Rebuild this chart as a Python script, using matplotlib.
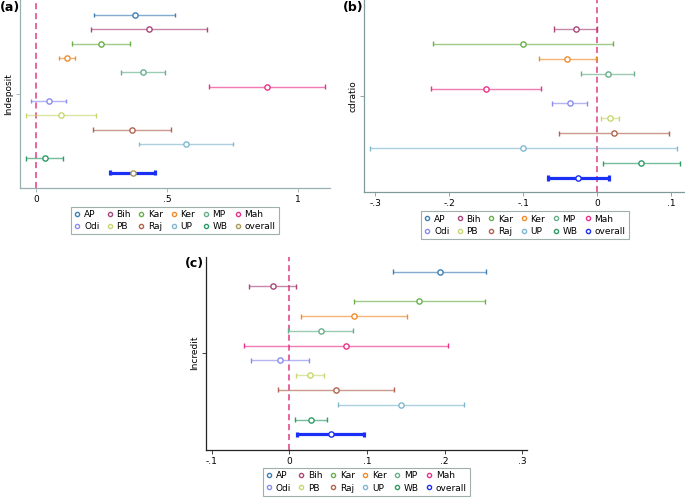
import numpy as np
import matplotlib
matplotlib.use('Agg')
import matplotlib.pyplot as plt
from matplotlib.lines import Line2D

states = ['AP', 'Bih', 'Kar', 'Ker', 'MP', 'Mah', 'Odi', 'PB', 'Raj', 'UP', 'WB', 'overall']
colors = ['#3f7fb5', '#a8477a', '#6ab04c', '#f08c2c', '#66b08a', '#e8338a',
          '#8c8cf0', '#c8d870', '#b06450', '#80b8d0', '#2e9a68', '#1a30f5']

# (a) lndeposit: estimate, lower, upper
dep_est = [0.376, 0.431, 0.247, 0.118, 0.408, 0.882, 0.047, 0.094, 0.367, 0.572, 0.032, 0.368]
dep_lo = [0.219, 0.210, 0.135, 0.088, 0.325, 0.661, -0.020, -0.040, 0.218, 0.391, -0.041, 0.283]
dep_hi = [0.532, 0.654, 0.359, 0.149, 0.492, 1.104, 0.115, 0.227, 0.515, 0.753, 0.103, 0.454]

# (b) cdratio (no AP estimate)
cdr_est = [np.nan, -0.029, -0.1005, -0.041, 0.0144, -0.150, -0.037, 0.018, 0.0225, -0.0995, 0.060, -0.026]
cdr_lo = [np.nan, -0.058, -0.2225, -0.079, -0.021, -0.224, -0.061, 0.0054, -0.052, -0.307, 0.0086, -0.066]
cdr_hi = [np.nan, -0.0005, 0.022, -0.002, 0.050, -0.076, -0.014, 0.030, 0.098, 0.1086, 0.112, 0.016]

# (c) lncredit
cre_est = [0.1936, -0.0215, 0.1674, 0.0837, 0.0408, 0.0725, -0.0116, 0.027, 0.0605, 0.1438, 0.0275, 0.0536]
cre_lo = [0.133, -0.0524, 0.0837, 0.0146, -0.0013, -0.0584, -0.0494, 0.009, -0.0146, 0.0631, 0.0069, 0.0103]
cre_hi = [0.2536, 0.009, 0.2515, 0.152, 0.0824, 0.2039, 0.0258, 0.0446, 0.1343, 0.2245, 0.048, 0.0966]

W, H = 685, 498
fig = plt.figure(figsize=(6.85, 4.98), dpi=100)


def px_axes(l, t, r, b):
    return fig.add_axes([l / W, 1 - b / H, (r - l) / W, (b - t) / H])


def panel(ax, est, lo, hi, xlim, ylim, ticks, ticklabels, ylab, spine_col, overall_mk):
    rows = np.arange(1, len(states) + 1)
    for i, s in enumerate(states):
        if np.isnan(est[i]):
            continue
        c = colors[i]
        lw = 2.3 if s == 'overall' else 1.0
        ax.plot([lo[i], hi[i]], [rows[i], rows[i]], color=c, lw=lw,
                alpha=1.0 if s == 'overall' else 0.65, solid_capstyle='butt', zorder=2)
        for xv in (lo[i], hi[i]):
            ax.plot([xv, xv], [rows[i] - 0.17, rows[i] + 0.17], color=c,
                    lw=lw, solid_capstyle='butt', zorder=3)
        mc = overall_mk if s == 'overall' else c
        ax.plot(est[i], rows[i], 'o', ms=3.8, mfc='white', mec=mc, mew=1.0, zorder=4)
    ax.axvline(0, color='#e23c82', lw=1.1, ls=(0, (4, 2.5)), zorder=1)
    ax.set_xlim(*xlim)
    ax.set_ylim(*ylim)
    ax.set_xticks(ticks)
    ax.set_xticklabels(ticklabels, fontsize=6.5)
    ax.set_yticks([6.5])
    ax.set_yticklabels([ylab], fontsize=6.5, rotation=90, va='center')
    ax.tick_params(length=3, width=0.6, color=spine_col, pad=2)
    for sp in ('top', 'right'):
        ax.spines[sp].set_visible(False)
    for sp in ('left', 'bottom'):
        ax.spines[sp].set_color(spine_col)
        ax.spines[sp].set_linewidth(0.9)


def legend(cx, top, overall_mk):
    handles = []
    for i, s in enumerate(states):
        mc = overall_mk if s == 'overall' else colors[i]
        handles.append(Line2D([], [], ls='none', marker='o', ms=3, mfc='white', mec=mc, mew=1.0))
    order = [0, 6, 1, 7, 2, 8, 3, 9, 4, 10, 5, 11]
    lg = fig.legend([handles[k] for k in order], [states[k] for k in order],
                    loc='upper center', bbox_to_anchor=(cx / W, 1 - top / H),
                    ncol=6, fontsize=6.5, frameon=True, fancybox=False,
                    handlelength=0.6, handletextpad=0.45, columnspacing=0.85,
                    borderpad=0.35, labelspacing=0.35, borderaxespad=0)
    lg.get_frame().set_edgecolor('#8a9a9a')
    lg.get_frame().set_linewidth(0.8)


ax_a = px_axes(20, 0, 330, 188)
panel(ax_a, dep_est, dep_lo, dep_hi, (-0.0624, 1.1235), (13.07, -0.047),
      [0, 0.5, 1], ['0', '.5', '1'], 'lndeposit', '#9ab0b0', '#a89c58')
legend(175, 207, '#a89c58')

ax_b = px_axes(364.3, 0, 685, 192.3)
panel(ax_b, cdr_est, cdr_lo, cdr_hi, (-0.3149, 0.1191), (12.96, 0.054),
      [-0.3, -0.2, -0.1, 0, 0.1], ['-.3', '-.2', '-.1', '0', '.1'], 'cdratio', '#7f9a9a', colors[-1])
legend(525, 211.5, colors[-1])

ax_c = px_axes(206, 256.7, 526.7, 450)
panel(ax_c, cre_est, cre_lo, cre_hi, (-0.1073, 0.3057), (13.06, -0.015),
      [-0.1, 0, 0.1, 0.2, 0.3], ['-.1', '0', '.1', '.2', '.3'], 'lncredit', '#222222', colors[-1])
legend(366.5, 468.3, colors[-1])

fig.text(0 / W, 1 - 8 / H, '(a)', fontsize=9, fontweight='bold', va='center', ha='left')
fig.text(343 / W, 1 - 8 / H, '(b)', fontsize=9, fontweight='bold', va='center', ha='left')
fig.text(185 / W, 1 - 263 / H, '(c)', fontsize=9, fontweight='bold', va='center', ha='left')

fig.savefig('out.png', dpi=100)
